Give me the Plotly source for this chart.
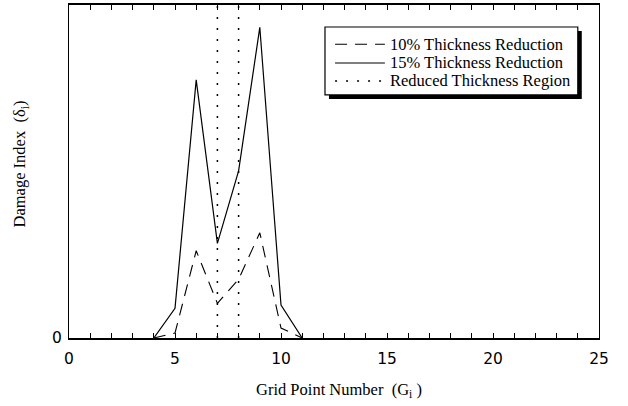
import plotly.graph_objects as go

# ---- data ----
grid_points = [4, 5, 6, 7, 8, 9, 10, 11]
damage_10 = [0, 0.015, 0.262, 0.104, 0.176, 0.316, 0.030, 0]
damage_15 = [0, 0.089, 0.775, 0.284, 0.502, 0.933, 0.099, 0]
region_bounds = [7, 8]
x_ticks = [0, 5, 10, 15, 20, 25]
y_ticks = [0]
series_names = ["10% Thickness Reduction", "15% Thickness Reduction", "Reduced Thickness Region"]

serif = "Liberation Serif, Times New Roman, serif"
sans = "DejaVu Sans, Arial, sans-serif"

dash10 = "12px,8px"
dash_region = "2px,9px"

fig = go.Figure()
fig.add_trace(go.Scatter(
    x=grid_points, y=damage_10, mode="lines", name=series_names[0],
    line=dict(color="black", width=1.1, dash=dash10), showlegend=False,
))
fig.add_trace(go.Scatter(
    x=grid_points, y=damage_15, mode="lines", name=series_names[1],
    line=dict(color="black", width=1.2), showlegend=False,
))
rx, ry = [], []
for b in region_bounds:
    rx += [b, b, None]
    ry += [0, 1, None]
fig.add_trace(go.Scatter(
    x=rx, y=ry, mode="lines", name=series_names[2],
    line=dict(color="black", width=1.5, dash=dash_region), showlegend=False,
))

# ---- hand-drawn legend box with drop shadow (paper coordinates) ----
lx0, lx1, ly0, ly1 = 0.483, 0.960, 0.730, 0.934
sdx, sdy = 0.0075, 0.012
shapes = [
    dict(type="rect", xref="paper", yref="paper",
         x0=lx0 + sdx, x1=lx1 + sdx, y0=ly0 - sdy, y1=ly1 - sdy,
         fillcolor="black", line=dict(width=0), layer="above"),
    dict(type="rect", xref="paper", yref="paper",
         x0=lx0, x1=lx1, y0=ly0, y1=ly1,
         fillcolor="white", line=dict(color="black", width=1.2), layer="above"),
]
row_y = [0.882, 0.826, 0.772]
sample_styles = [dict(width=1.1, dash=dash10), dict(width=1.1, dash="solid"), dict(width=1.5, dash=dash_region)]
annotations = []
for name, yy, st in zip(series_names, row_y, sample_styles):
    shapes.append(dict(type="line", xref="paper", yref="paper",
                       x0=0.502, x1=0.596, y0=yy, y1=yy,
                       line=dict(color="black", **st), layer="above"))
    annotations.append(dict(text=name, xref="paper", yref="paper",
                            x=0.602, y=yy, xanchor="left", yanchor="middle",
                            showarrow=False,
                            font=dict(family=serif, size=16.5, color="black")))

annotations.append(dict(text="Damage Index  (δ<sub>i</sub>)", xref="paper", yref="paper",
                        x=-0.0925, y=0.524, xanchor="center", yanchor="middle",
                        textangle=-90, showarrow=False,
                        font=dict(family=serif, size=16.5, color="black")))
annotations.append(dict(text="Grid Point Number  (G<sub>i</sub> )", xref="paper", yref="paper",
                        x=0.509, y=-0.156, xanchor="center", yanchor="middle",
                        showarrow=False,
                        font=dict(family=serif, size=16.5, color="black")))

fig.update_layout(
    width=628, height=406,
    margin=dict(l=69, r=29, t=5, b=68, autoexpand=False),
    plot_bgcolor="white", paper_bgcolor="white",
    showlegend=False,
    shapes=shapes,
    annotations=annotations,
    xaxis=dict(
        range=[0, 25], tickvals=x_ticks, ticktext=[str(v) for v in x_ticks],
        ticks="inside", ticklen=5, tickwidth=1, tickcolor="black",
        minor=dict(dtick=1, ticks="inside", ticklen=5, tickwidth=1, tickcolor="black"),
        showline=True, linecolor="black", linewidth=2, mirror="ticks",
        showgrid=False, zeroline=False, automargin=False,
        tickfont=dict(family=sans, size=15.5, color="black"),
        ticklabelstandoff=5,
    ),
    yaxis=dict(
        range=[0, 1], tickvals=y_ticks, ticktext=["0"],
        ticks="", showline=True, linecolor="black", linewidth=1, mirror=True,
        showgrid=False, zeroline=False, automargin=False,
        tickfont=dict(family=sans, size=15.5, color="black"),
        ticklabelstandoff=3,
    ),
)

fig.write_html("out.html",
               config={"displayModeBar": False},
               post_script="document.body.style.margin='0';document.body.style.padding='0';")
